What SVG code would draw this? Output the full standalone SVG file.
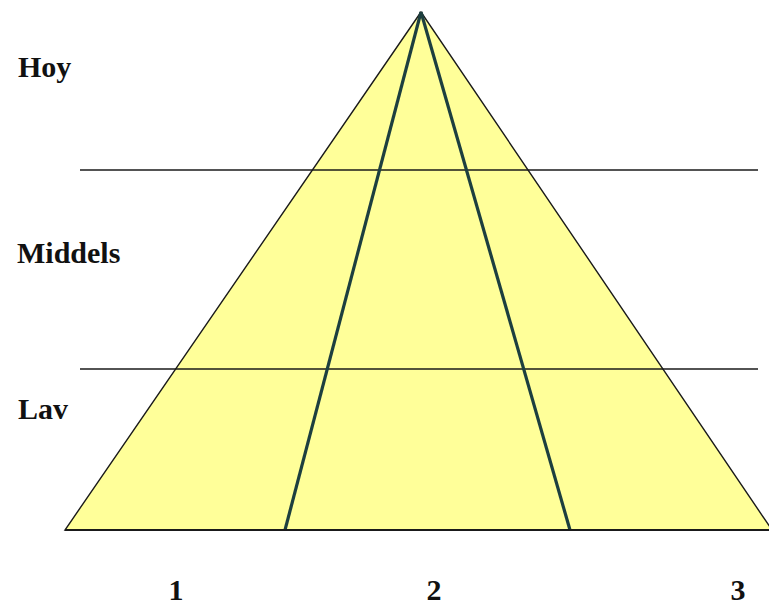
<svg xmlns="http://www.w3.org/2000/svg" width="769" height="607" viewBox="0 0 769 607">
<style>
.lbl{font-family:"Liberation Serif","Times New Roman",serif;font-weight:bold;font-size:30px;fill:#111}
.num{font-family:"Liberation Serif","Times New Roman",serif;font-weight:bold;font-size:30px;fill:#111;text-anchor:middle}
.h{stroke:#1a1a1a;stroke-width:1.6;fill:none}
.inner{stroke:#1d3f3f;stroke-width:3.2;fill:none}
</style>
<rect width="769" height="607" fill="#ffffff"/>
<g id="pyramid">
<polygon points="421,12 65,530 772,530" fill="#ffff99" stroke="#1a1a1a" stroke-width="1.4"/>
</g>
<g id="connectors">
<line class="h" x1="80" y1="170" x2="758" y2="170"/>
<line class="h" x1="80" y1="369" x2="758" y2="369"/>
<line class="inner" x1="421" y1="12" x2="285" y2="530"/>
<line class="inner" x1="421" y1="12" x2="570" y2="530"/>
<line x1="65" y1="530" x2="769" y2="530" stroke="#1a1a1a" stroke-width="2"/>
</g>
<g id="label-hoy"><text class="lbl" x="18" y="77">Hoy</text></g>
<g id="label-middels"><text class="lbl" x="17" y="263">Middels</text></g>
<g id="label-lav"><text class="lbl" x="18" y="419">Lav</text></g>
<g id="num-1"><text class="num" x="176" y="600">1</text></g>
<g id="num-2"><text class="num" x="434" y="600">2</text></g>
<g id="num-3"><text class="num" x="738" y="600">3</text></g>
</svg>
